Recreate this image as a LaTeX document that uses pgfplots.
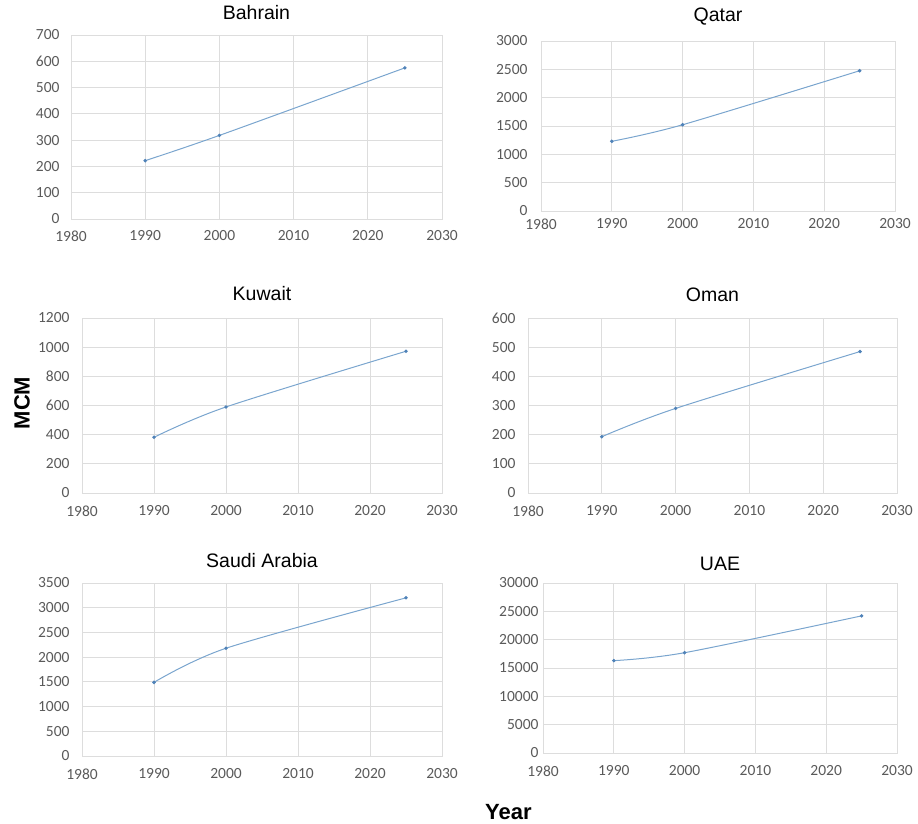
\documentclass[border=0pt]{standalone}
\usepackage{fontspec}
\setmainfont{Liberation Sans}
\newfontfamily\carlito{Carlito}
\usepackage{pgfplots}
\pgfplotsset{compat=1.18}
\definecolor{gridc}{HTML}{DDDDDD}
\definecolor{tickc}{HTML}{5A5A5A}
\definecolor{linec}{HTML}{7AA5CE}
\definecolor{markc}{HTML}{4F82B8}
\pgfplotsset{
  gccstyle/.style n args={3}{
    anchor=south west, scale only axis,
    xmin=1980, xmax=2030, ymin=0,
    xtick={1980,1990,2000,2010,2020,2030},
    grid=major,
    major grid style={draw=gridc, line width=0.8pt},
    axis line style={draw=gridc, line width=0.8pt},
    major tick length=0pt,
    tick style={draw=none},
    /pgf/number format/1000 sep={},
    /pgf/number format/assume math mode=true,
    ticklabel style={font=\carlito\fontsize{15.5}{17}\selectfont, text=tickc},
    xticklabel style={yshift=#1},
    yticklabel style={xshift=#2},
    title style={font=\fontsize{19.5}{22}\selectfont, anchor=base, yshift=#3},
  },
  ser/.style={color=linec, line width=1pt, smooth, tension=0.5, mark=*, mark size=1.2pt, mark options={fill=markc, draw=markc}},
}
\begin{document}
\begin{tikzpicture}
\path[use as bounding box] (0pt,0pt) rectangle (918pt,823pt);
% Bahrain
\begin{axis}[gccstyle={-8pt}{-8pt}{10pt}, at={(71pt,604pt)}, width=371pt, height=184pt, ymax=700, ytick distance=100, title={Bahrain}]
\addplot[ser] coordinates {(1990,222) (2000,318) (2025,575)};
\end{axis}
% Qatar
\begin{axis}[gccstyle={-4pt}{-10pt}{13pt}, at={(541pt,612pt)}, width=354pt, height=170pt, ymax=3000, ytick distance=500, title={Qatar}]
\addplot[ser] coordinates {(1990,1230) (2000,1522) (2025,2475)};
\end{axis}
% Kuwait
\begin{axis}[gccstyle={-9pt}{-9pt}{11pt}, at={(82pt,330pt)}, width=360pt, height=175pt, ymax=1200, ytick distance=200, title={Kuwait}]
\addplot[ser] coordinates {(1990,382) (2000,590) (2025,972)};
\end{axis}
% Oman
\begin{axis}[gccstyle={-9pt}{-9pt}{11pt}, at={(528pt,330pt)}, width=369pt, height=175pt, ymax=600, ytick distance=100, title={Oman}]
\addplot[ser] coordinates {(1990,193) (2000,290) (2025,485)};
\end{axis}
% Saudi Arabia
\begin{axis}[gccstyle={-9pt}{-9pt}{10pt}, at={(82pt,67pt)}, width=360pt, height=173pt, ymax=3500, ytick distance=500, title={Saudi Arabia}]
\addplot[ser] coordinates {(1990,1490) (2000,2180) (2025,3200)};
\end{axis}
% UAE
\begin{axis}[gccstyle={-9pt}{-1pt}{7pt}, at={(543pt,70pt)}, width=354pt, height=170pt, ymax=30000, ytick distance=5000, title={UAE}, scaled y ticks=false]
\addplot[ser] coordinates {(1990,16300) (2000,17700) (2025,24200)};
\end{axis}
\node[rotate=90, font=\bfseries\fontsize{22}{24}\selectfont] at (22pt,420pt) {MCM};
\node[anchor=west, font=\bfseries\fontsize{22}{24}\selectfont, inner sep=0pt] at (485pt,11pt) {Year};
\end{tikzpicture}
\end{document}
